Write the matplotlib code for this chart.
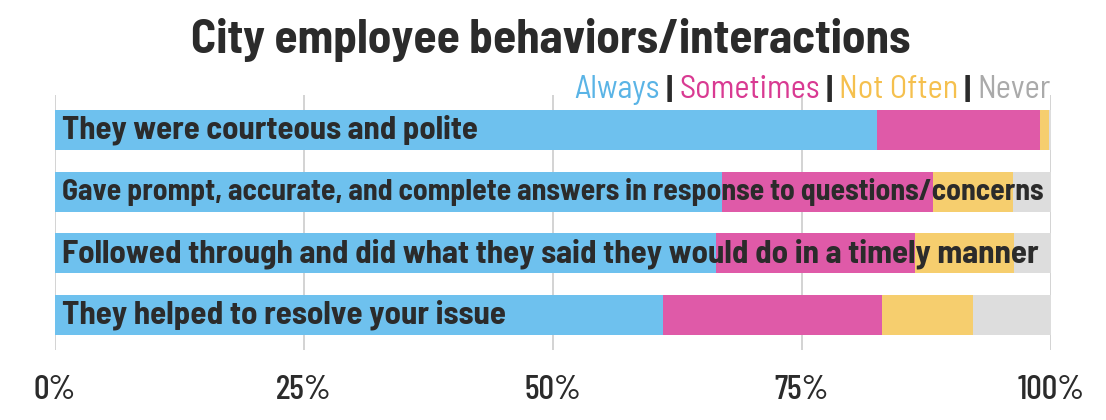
import matplotlib.pyplot as plt

questions = [
    "They were courteous and polite",
    "Gave prompt, accurate, and complete answers in response to questions/concerns",
    "Followed through and did what they said they would do in a timely manner",
    "They helped to resolve your issue",
]
always = [82.5, 67.0, 66.4, 61.0]
sometimes = [16.4, 21.1, 19.9, 22.0]
not_often = [0.9, 8.1, 10.0, 9.2]
never = [0.2, 3.8, 3.7, 7.8]

categories = ["Always", "Sometimes", "Not Often", "Never"]
bar_colors = ["#6ec1ee", "#df5aa8", "#f6ce6e", "#dddddd"]
text_colors = ["#5ab4e6", "#d93a92", "#f5c04e", "#aaaaaa"]
ticks = [0, 25, 50, 75, 100]

# pixel widths the labels span in the reference
label_widths = [416, 982, 976, 444]

FONT = ["Barlow Semi Condensed", "DejaVu Sans"]
TICK_FONT = ["Barlow Condensed", "DejaVu Sans"]
DARK = "#2b2b2b"


def fit_size(fig, text, target_px, size):
    """Scale a text's font size so it spans target_px pixels."""
    r = fig.canvas.get_renderer()
    for _ in range(3):
        w = text.get_window_extent(r).width
        size *= target_px / w
        text.set_fontsize(size)
    return size


def main():
    fig = plt.figure(figsize=(11.06, 4.2), dpi=100)
    ax = fig.add_axes([0.0497, 0.1667, 0.9006, 0.607])

    y = range(len(questions))
    left = [0] * len(questions)
    for vals, color in zip([always, sometimes, not_often, never], bar_colors):
        ax.barh(y, vals, left=left, height=0.65, color=color, zorder=2)
        left = [l + v for l, v in zip(left, vals)]

    fig.canvas.draw()
    for i, (q, w) in enumerate(zip(questions, label_widths)):
        t = ax.text(0.7, i, q, va="center", ha="left", fontsize=22,
                    fontweight="bold", family=FONT, color=DARK, zorder=3)
        fit_size(fig, t, w, 22)

    ax.set_xlim(0, 100)
    ax.set_ylim(3.565, -0.565)
    ax.set_xticks(ticks)
    ax.set_xticklabels([f"{t}%" for t in ticks], family=TICK_FONT, fontweight="medium",
                       fontsize=26, color=DARK)
    ax.tick_params(axis="x", length=0, pad=18)
    ax.set_yticks([])
    ax.grid(axis="x", color="#cccccc", linewidth=1.2, zorder=0)
    for sp in ax.spines.values():
        sp.set_visible(False)

    fig.canvas.draw()
    fit_size(fig, ax.get_xticklabels()[-1], 67, 26)
    ts = ax.get_xticklabels()[-1].get_fontsize()
    for t in ax.get_xticklabels():
        t.set_fontsize(ts)

    title = fig.text(0.4982, 0.905, "City employee behaviors/interactions", ha="center",
                     va="center", fontsize=36, fontweight="bold", family=FONT, color=DARK)
    fit_size(fig, title, 720, 36)

    # legend: coloured words separated by bars, right aligned
    pieces = []
    for i, (c, tc) in enumerate(zip(categories, text_colors)):
        if i > 0:
            pieces.append((" | ", DARK))
        pieces.append((c, tc))
    probe = fig.text(0, 0, "".join(p[0] for p in pieces), fontsize=22, family=FONT)
    ls = fit_size(fig, probe, 473, 22)
    probe.remove()
    r = fig.canvas.get_renderer()
    x = 1051 / 1106
    for txt, col in reversed(pieces):
        w = "bold" if "|" in txt else "normal"
        t = fig.text(x, 0.785, txt, ha="right", va="center", fontsize=ls,
                     family=FONT, fontweight=w, color=col)
        x -= t.get_window_extent(r).width / fig.bbox.width

    fig.savefig("out.png", dpi=100)


if __name__ == "__main__":
    main()
